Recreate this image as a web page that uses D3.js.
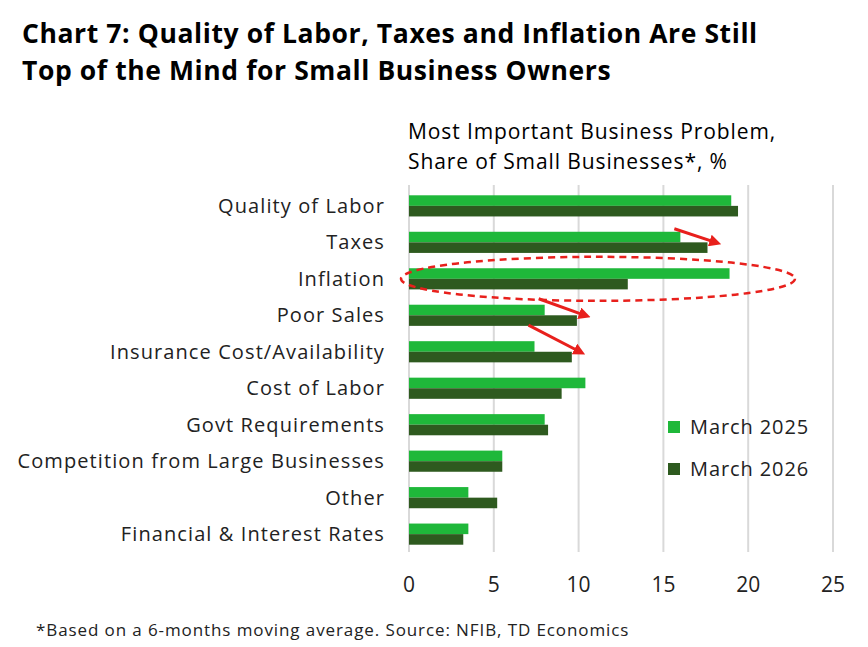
<!DOCTYPE html>
<html><head><meta charset="utf-8">
<script src="https://cdn.jsdelivr.net/npm/d3@7"></script>
<style>body{margin:0;background:#fff;font-family:"Open Sans",Lato,sans-serif}</style>
</head><body><svg id="c" width="868" height="647"></svg>
<script>
const categories=["Quality of Labor","Taxes","Inflation","Poor Sales","Insurance Cost/Availability","Cost of Labor","Govt Requirements","Competition from Large Businesses","Other","Financial & Interest Rates"];
const march2025=[19.0,16.0,18.9,8.0,7.4,10.4,8.0,5.5,3.5,3.5];
const march2026=[19.4,17.6,12.9,9.9,9.6,9.0,8.2,5.5,5.2,3.2];
const ticks=[0,5,10,15,20,25];
const c1="#1fb83a",c2="#2e5a1f";
const svg=d3.select("#c");
const x=d3.scaleLinear().domain([0,25]).range([409,833]);
const y=d3.scaleBand().domain(categories).range([188,552]).paddingInner(0.42).paddingOuter(0.2);
svg.append("text").attr("x",22).attr("y",43).attr("font-size",26.5).attr("letter-spacing",0.6).attr("font-weight",700).text("Chart 7: Quality of Labor, Taxes and Inflation Are Still");
svg.append("text").attr("x",22).attr("y",80).attr("font-size",26.5).attr("letter-spacing",0.6).attr("font-weight",700).text("Top of the Mind for Small Business Owners");
svg.append("text").attr("x",408).attr("y",139).attr("font-size",21).attr("letter-spacing",0.9).text("Most Important Business Problem,");
svg.append("text").attr("x",408).attr("y",169).attr("font-size",21).attr("letter-spacing",0.9).text("Share of Small Businesses*, %");
svg.append("g").selectAll("line").data(ticks.slice(1)).join("line").attr("x1",d=>x(d)).attr("x2",d=>x(d)).attr("y1",185).attr("y2",552).attr("stroke","#d9d9d9").attr("stroke-width",2);
svg.append("line").attr("x1",x(0)).attr("x2",x(0)).attr("y1",185).attr("y2",552).attr("stroke","#d9d9d9").attr("stroke-width",2);
const bh=y.bandwidth()/2;
svg.append("g").selectAll("rect").data(categories).join("rect").attr("x",x(0)).attr("y",d=>y(d)).attr("width",(d,i)=>x(march2025[i])-x(0)).attr("height",bh).attr("fill",c1);
svg.append("g").selectAll("rect").data(categories).join("rect").attr("x",x(0)).attr("y",d=>y(d)+bh).attr("width",(d,i)=>x(march2026[i])-x(0)).attr("height",bh).attr("fill",c2);
svg.append("g").selectAll("text").data(categories).join("text").attr("x",385).attr("y",d=>y(d)+bh+7).attr("text-anchor","end").attr("font-size",20).attr("letter-spacing",1.1).attr("fill","#222").text(d=>d);
svg.append("g").selectAll("text").data(ticks).join("text").attr("x",d=>x(d)).attr("y",592).attr("text-anchor","middle").attr("font-size",21).attr("fill","#222").text(d=>d);
[[c1,"March 2025",427],[c2,"March 2026",469]].forEach(([col,t,yy])=>{
 svg.append("rect").attr("x",668).attr("y",yy-6).attr("width",12).attr("height",12).attr("fill",col);
 svg.append("text").attr("x",690).attr("y",yy+7).attr("font-size",20).attr("letter-spacing",0.9).attr("fill","#222").text(t);
});
svg.append("text").attr("x",36).attr("y",636).attr("font-size",17).attr("letter-spacing",0.9).attr("fill","#222").text("*Based on a 6-months moving average. Source: NFIB, TD Economics");
const defs=svg.append("defs");
defs.append("marker").attr("id","ah").attr("viewBox","0 0 10 10").attr("refX",5).attr("refY",5).attr("markerWidth",4).attr("markerHeight",4).attr("orient","auto").append("path").attr("d","M0,0L10,5L0,10z").attr("fill","#e8201c");
const cy=y("Inflation")+bh;
svg.append("ellipse").attr("cx",598).attr("cy",cy).attr("rx",197).attr("ry",22).attr("fill","none").attr("stroke","#e8201c").attr("stroke-width",2.5).attr("stroke-dasharray","7,5");
[[16,"Taxes",-3,17.6],[8,"Poor Sales",-6,9.9],[7.4,"Insurance Cost/Availability",-16,9.6]].forEach(([a,cat,dy,b])=>{
 const y0=y(cat)+dy, y1=y(cat)+bh;
 svg.append("line").attr("x1",x(a)-6).attr("y1",y0).attr("x2",x(b)+8).attr("y2",y1).attr("stroke","#e8201c").attr("stroke-width",3).attr("marker-end","url(#ah)");
});
</script></body></html>
